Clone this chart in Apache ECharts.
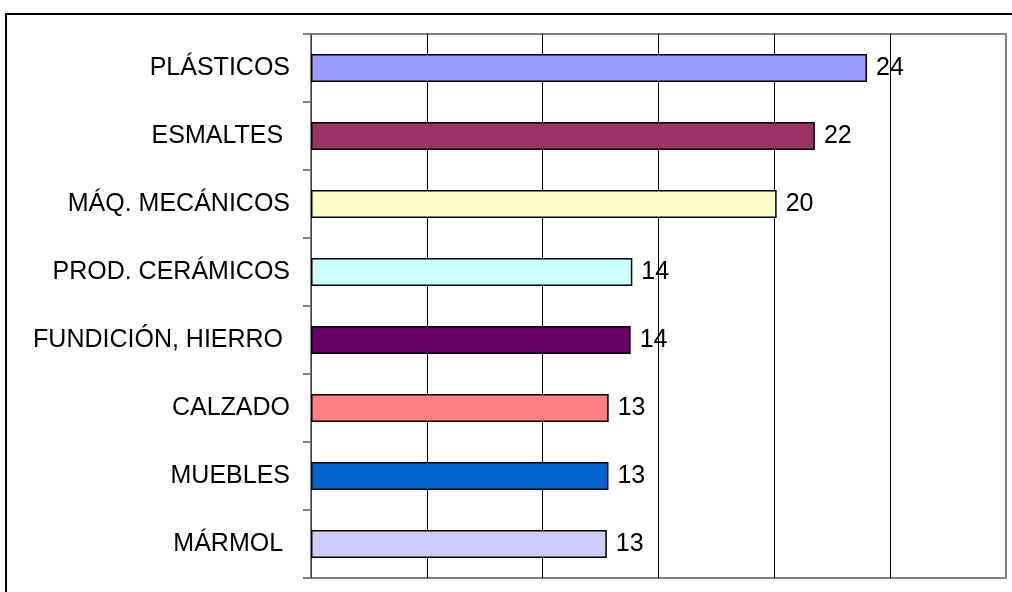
<!DOCTYPE html>
<html>
<head>
<meta charset="utf-8">
<script src="https://cdn.jsdelivr.net/npm/echarts@6/dist/echarts.min.js"></script>
<style>
html,body{margin:0;padding:0;background:#fff;}
#c{width:1012px;height:592px;}
</style>
</head>
<body>
<div id="c"></div>
<script>
const categories = ['PLÁSTICOS', 'ESMALTES ', 'MÁQ. MECÁNICOS', 'PROD. CERÁMICOS', 'FUNDICIÓN, HIERRO ', 'CALZADO', 'MUEBLES', 'MÁRMOL '];
const values = [24.0, 21.75, 20.1, 13.87, 13.8, 12.85, 12.84, 12.77];
const colors = ['#9999FF', '#993366', '#FFFFCC', '#CCFFFF', '#660066', '#FF8080', '#0066CC', '#CCCCFF'];
const xTicks = { min: 0, max: 30, interval: 5 };

const chart = echarts.init(document.getElementById('c'), null, { renderer: 'canvas' });
const FONT = '"Liberation Sans", Arial, sans-serif';
chart.setOption({
  animation: false,
  backgroundColor: '#fff',
  textStyle: { fontFamily: FONT },
  graphic: [{
    type: 'rect',
    shape: { x: 6, y: 14, width: 1030, height: 620 },
    style: { fill: 'none', stroke: '#000', lineWidth: 2 },
    silent: true, z: 100
  }],
  grid: {
    left: 311, right: 6, top: 34, bottom: 14,
    show: true, borderColor: '#808080', borderWidth: 2, backgroundColor: '#fff'
  },
  xAxis: {
    type: 'value', min: xTicks.min, max: xTicks.max, interval: xTicks.interval,
    axisLine: { show: false }, axisTick: { show: false }, axisLabel: { show: false },
    splitLine: { show: true, showMinLine: false, showMaxLine: false, lineStyle: { color: '#000', width: 1 } }
  },
  yAxis: {
    type: 'category', data: categories, inverse: true,
    axisLine: { show: true, lineStyle: { color: '#404040', width: 1 } },
    axisTick: { show: true, length: 8, alignWithLabel: false, lineStyle: { color: '#808080', width: 2 } },
    axisLabel: { color: '#000', fontSize: 25, margin: 21, fontFamily: FONT },
    splitLine: { show: false }
  },
  series: [{
    type: 'bar',
    barWidth: 28,
    data: values.map((v, i) => ({ value: v, itemStyle: { color: colors[i] } })),
    itemStyle: { borderColor: '#000', borderWidth: 1.5 },
    label: {
      show: true, position: 'right', distance: 9,
      color: '#000', fontSize: 25, fontFamily: FONT,
      formatter: p => Math.round(p.value)
    }
  }]
});
</script>
</body>
</html>
